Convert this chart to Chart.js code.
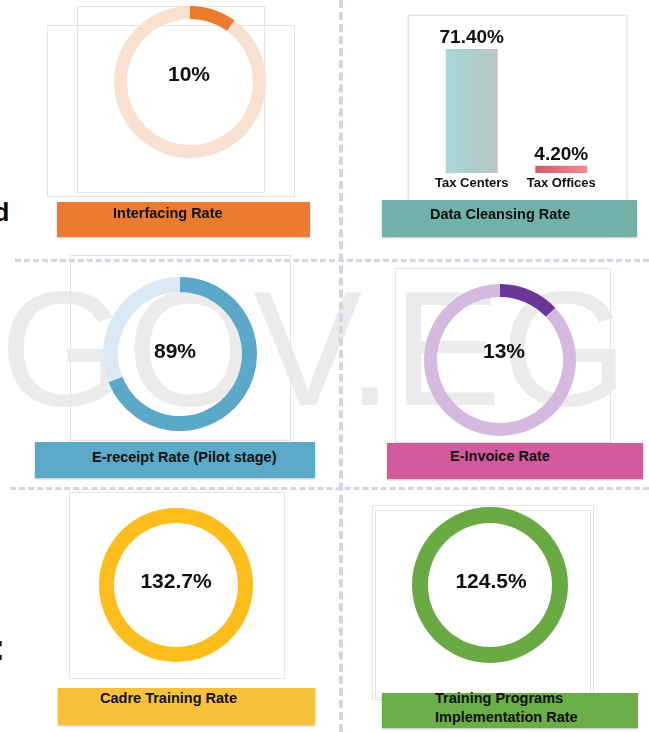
<!DOCTYPE html>
<html>
<head>
<meta charset="utf-8">
<title>Rates</title>
<script src="https://cdn.jsdelivr.net/npm/chart.js@4.4.1/dist/chart.umd.min.js"></script>
<style>
  body { margin: 0; background: #fff; font-family: "Liberation Sans", Arial, Helvetica, sans-serif; }
  #page { position: relative; width: 649px; height: 732px; overflow: hidden; }
  #wm { position: absolute; left: 0; top: 267px; font-size: 163px; line-height: 1; color: #ebebeb; white-space: nowrap; }
  .frame { position: absolute; border: 1px solid #e4e4e4; box-sizing: border-box; }
  .vdash { position: absolute; left: 339px; top: 0; height: 732px; border-left: 4px dashed #d0d6e2; }
  .hdash { position: absolute; height: 0; border-top: 3px dashed #d0d6e2; }
  .bar { position: absolute; box-shadow: 0 1px 2px rgba(0,0,0,.25); }
  .title { position: absolute; font-weight: bold; font-size: 14.5px; line-height: 16px; color: #111; white-space: pre; }
  .cut { position: absolute; font-weight: bold; color: #000; line-height: 1; }
</style>
</head>
<body>
<div id="page">
  <div id="wm">GOV.EG</div>

  <div class="frame" style="left:47px;top:25px;width:248px;height:172px"></div>
  <div class="frame" style="left:77px;top:6px;width:188px;height:187px"></div>
  <div class="frame" style="left:408px;top:15px;width:219px;height:186px;background:#fff;box-shadow:0 0 3px rgba(0,0,0,.12)"></div>
  <div class="frame" style="left:70px;top:255px;width:221px;height:186px"></div>
  <div class="frame" style="left:395px;top:268px;width:216px;height:175px"></div>
  <div class="frame" style="left:69px;top:492px;width:216px;height:187px"></div>
  <div class="frame" style="left:372px;top:505px;width:222px;height:195px"></div>
  <div class="frame" style="left:375px;top:510px;width:216px;height:188px"></div>

  <div class="vdash"></div>
  <div class="hdash" style="left:15px;top:259px;width:634px"></div>
  <div class="hdash" style="left:10px;top:487px;width:639px"></div>

  <div class="cut" style="left:-6px;top:200px;font-size:25px">d</div>
  <div class="cut" style="left:-7px;top:630px;font-size:36px">:</div>
</div>

<script>
// values
const panelTitles = ['Interfacing Rate', 'Data Cleansing Rate', 'E-receipt Rate (Pilot stage)', 'E-Invoice Rate', 'Cadre Training Rate', 'Training Programs\nImplementation Rate'];
const ringLabels = ['10%', '89%', '13%', '132.7%', '124.5%'];
const ringFill = [10, 69, 13, 100, 100]; // share of each ring that is filled, as drawn
const cleansingCategories = ['Tax Centers', 'Tax Offices'];
const cleansingValues = [71.4, 4.2];
const cleansingLabels = ['71.40%', '4.20%'];

// layout and colours
const ringLayout = [
  { cx: 190, cy: 82, r: 76, w: 13, dark: '#EA7A2E', light: '#F8E1D1', dx: -1, dy: -7 },
  { cx: 180, cy: 354, r: 77, w: 15, dark: '#5BA8C8', light: '#DAE9F3', dx: -5, dy: -2 },
  { cx: 500, cy: 360, r: 76, w: 13, dark: '#6C3599', light: '#D5BADF', dx: 4, dy: -8 },
  { cx: 176, cy: 585, r: 77, w: 15, dark: '#FDBD1D', light: '#FDBD1D', dx: 0, dy: -3 },
  { cx: 490, cy: 585, r: 78, w: 16, dark: '#6AAA44', light: '#6AAA44', dx: 1, dy: -3 }
];
const titleLayout = [
  { x: 57, y: 202, w: 253, h: 35, bg: '#EC7B30', tx: 113, ty: 205 },
  { x: 382, y: 200, w: 255, h: 37, bg: '#72B1AA', tx: 430, ty: 206 },
  { x: 35, y: 442, w: 280, h: 36, bg: '#5CA9CA', tx: 92, ty: 449 },
  { x: 387, y: 443, w: 256, h: 36, bg: '#D35A9D', tx: 450, ty: 448 },
  { x: 58, y: 688, w: 257, h: 37, bg: '#F9C13B', tx: 100, ty: 690 },
  { x: 382, y: 693, w: 256, h: 35, bg: '#6BAD46', tx: 435, ty: 689, lh: 19 }
];
const barColors = [['#A6D7D6', '#BAC5C5'], ['#D15B68', '#F08A90']];
const font = '"Liberation Sans", Arial, sans-serif';

const page = document.getElementById('page');

const centerText = {
  id: 'centerText',
  afterDraw(chart, args, opts) {
    const { ctx, chartArea: a } = chart;
    ctx.save();
    ctx.font = 'bold 21px ' + font;
    ctx.fillStyle = '#111';
    ctx.textAlign = 'center';
    ctx.textBaseline = 'middle';
    ctx.fillText(opts.text, (a.left + a.right) / 2 + opts.dx, (a.top + a.bottom) / 2 + opts.dy);
    ctx.restore();
  }
};

ringLabels.forEach((label, i) => {
  const L = ringLayout[i];
  const size = L.r * 2;
  const cv = document.createElement('canvas');
  cv.width = size;
  cv.height = size;
  cv.style.cssText = `position:absolute;left:${L.cx - L.r}px;top:${L.cy - L.r}px;width:${size}px;height:${size}px`;
  page.appendChild(cv);
  new Chart(cv, {
    type: 'doughnut',
    data: {
      labels: ['done', 'rest'],
      datasets: [{
        data: [ringFill[i], 100 - ringFill[i]],
        backgroundColor: [L.dark, L.light],
        borderWidth: 0
      }]
    },
    options: {
      responsive: false,
      animation: false,
      events: [],
      cutout: L.r - L.w,
      layout: { padding: 0 },
      plugins: {
        legend: { display: false },
        tooltip: { enabled: false },
        centerText: { text: label, dx: L.dx, dy: L.dy }
      }
    },
    plugins: [centerText]
  });
});

// data cleansing bars
const barValues = {
  id: 'barValues',
  afterDatasetsDraw(chart, args, opts) {
    const { ctx } = chart;
    ctx.save();
    ctx.font = 'bold 19px ' + font;
    ctx.fillStyle = '#111';
    ctx.textAlign = 'center';
    ctx.textBaseline = 'alphabetic';
    chart.getDatasetMeta(0).data.forEach((el, i) => ctx.fillText(opts.labels[i], el.x, el.y - 6));
    ctx.restore();
  }
};

const bc = document.createElement('canvas');
bc.width = 219;
bc.height = 185;
bc.style.cssText = 'position:absolute;left:408px;top:15px;width:219px;height:185px';
page.appendChild(bc);
new Chart(bc, {
  type: 'bar',
  data: {
    labels: cleansingCategories,
    datasets: [{
      data: cleansingValues,
      barPercentage: 0.58,
      categoryPercentage: 1,
      borderWidth: 0,
      backgroundColor(c) {
        const chart = c.chart, x = chart.scales.x;
        const stops = barColors[c.dataIndex] || barColors[0];
        if (!x || !x.width) return stops[0];
        const px = x.getPixelForValue(c.dataIndex);
        const half = x.width / cleansingCategories.length * 0.58 / 2;
        const g = chart.ctx.createLinearGradient(px - half, 0, px + half, 0);
        g.addColorStop(0, stops[0]);
        g.addColorStop(1, stops[1]);
        return g;
      }
    }]
  },
  options: {
    responsive: false,
    animation: false,
    events: [],
    layout: { padding: { left: 19, right: 21, top: 19, bottom: 0 } },
    scales: {
      x: {
        grid: { display: false, drawTicks: false },
        border: { display: false },
        ticks: { color: '#111', padding: 3, font: { family: font, size: 13, weight: 'bold' } },
        afterFit(scale) { scale.height = 27; }
      },
      y: { display: false, min: 0, max: 80 }
    },
    plugins: {
      legend: { display: false },
      tooltip: { enabled: false },
      barValues: { labels: cleansingLabels }
    }
  },
  plugins: [barValues]
});

// title bars
panelTitles.forEach((t, i) => {
  const T = titleLayout[i];
  const b = document.createElement('div');
  b.className = 'bar';
  b.style.cssText = `left:${T.x}px;top:${T.y}px;width:${T.w}px;height:${T.h}px;background:${T.bg}`;
  page.appendChild(b);
  const d = document.createElement('div');
  d.className = 'title';
  d.style.left = T.tx + 'px';
  d.style.top = T.ty + 'px';
  if (T.lh) d.style.lineHeight = T.lh + 'px';
  d.textContent = t;
  page.appendChild(d);
});
</script>
</body>
</html>
